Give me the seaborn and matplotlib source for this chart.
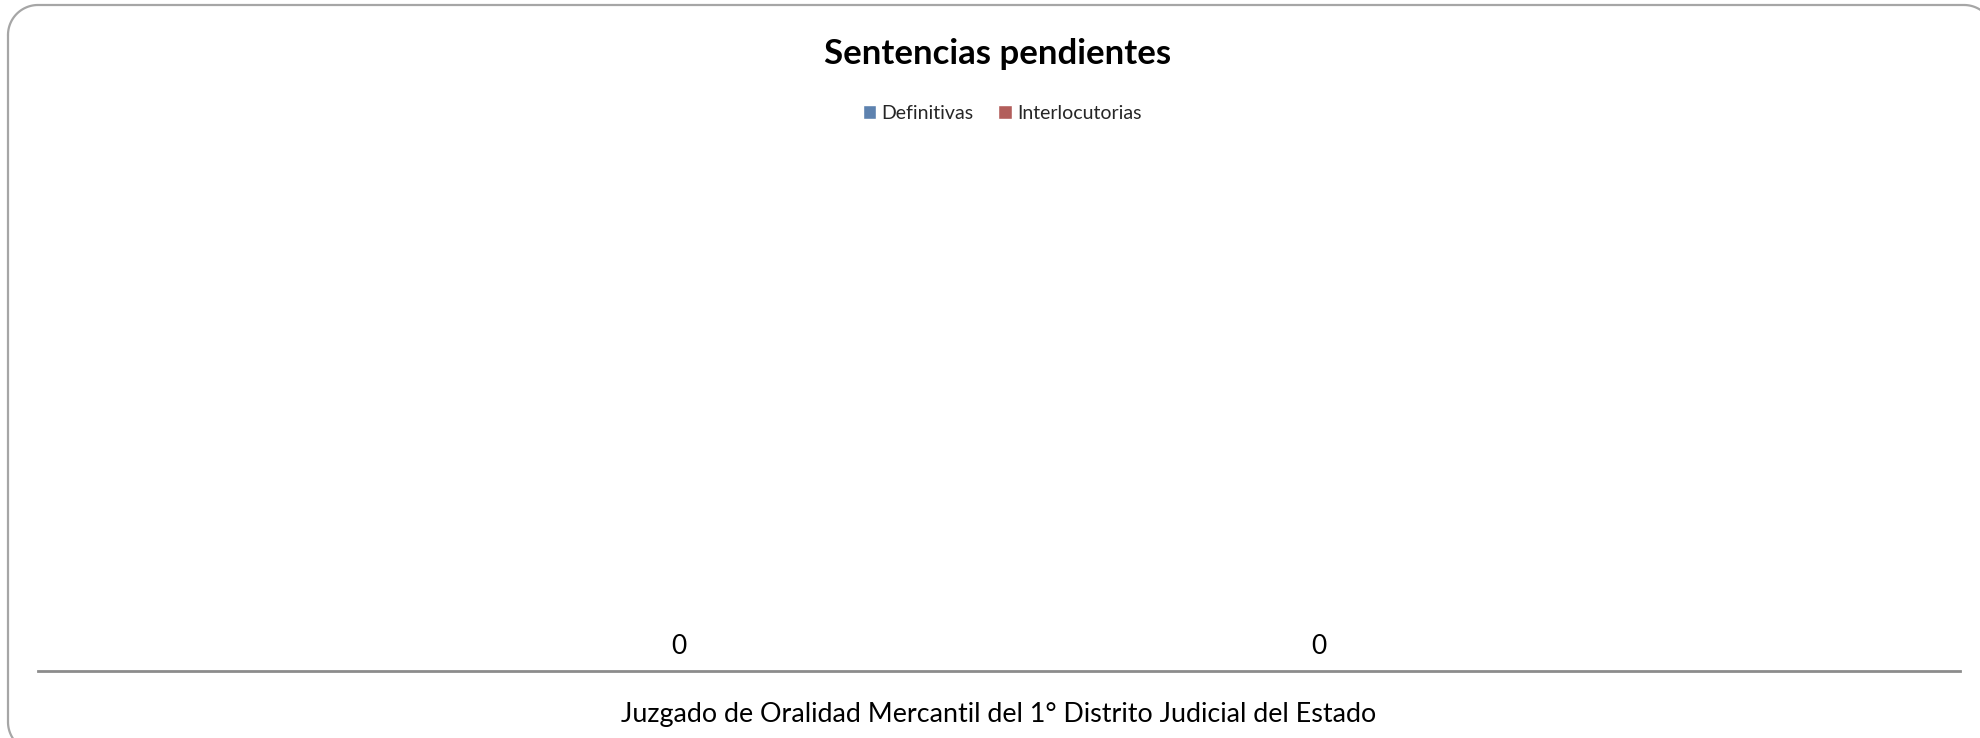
import matplotlib
matplotlib.use("Agg")
import matplotlib.pyplot as plt
import seaborn as sns
import pandas as pd
import numpy as np

categories = ["Juzgado de Oralidad Mercantil del 1° Distrito Judicial del Estado"]
series_names = ["Definitivas", "Interlocutorias"]
definitivas = [0]
interlocutorias = [0]
colors = ["#4F81BD", "#C0504D"]

df = pd.DataFrame({
    "cat": categories * 2,
    "serie": [series_names[0]] * len(categories) + [series_names[1]] * len(categories),
    "val": definitivas + interlocutorias,
})

sns.set_theme(style="white")
plt.rcParams["font.family"] = ["Lato", "DejaVu Sans"]

W, H = 1980, 738
fig = plt.figure(figsize=(W / 100, H / 100), dpi=100)

# rounded chart border overlay, pixel coordinates (y downwards)
bax = fig.add_axes([0, 0, 1, 1], zorder=-1)
bax.set_xlim(0, W)
bax.set_ylim(H, 0)
bax.axis("off")
x0, y0, x1, y1, r = 8, 5, 1994, 752, 30
def arc(cx, cy, a0, a1):
    t = np.radians(np.linspace(a0, a1, 30))
    return cx + r * np.cos(t), cy + r * np.sin(t)
xs, ys = [], []
for seg in [arc(x0 + r, y0 + r, 180, 270), arc(x1 - r, y0 + r, 270, 360),
            arc(x1 - r, y1 - r, 0, 90), arc(x0 + r, y1 - r, 90, 180)]:
    xs.extend(seg[0]); ys.extend(seg[1])
xs.append(xs[0]); ys.append(ys[0])
bax.plot(xs, ys, color="#A6A6A6", lw=1.6, solid_capstyle="round", clip_on=False)

ax = fig.add_axes([38 / W, 1 - 671 / H, (1960 - 38) / W, (671 - 140) / H])
ax.patch.set_alpha(0)

sns.barplot(data=df, x="cat", y="val", hue="serie", palette=colors,
            width=2 / 3, ax=ax, legend=True)
ax.set_xlim(-0.5, 0.5)
ax.set_ylim(0, 1)
for c in ax.containers:
    ax.bar_label(c, labels=[f"{v:g}" for v in c.datavalues], padding=9,
                 fontsize=19, color="black")

for s in ["top", "right", "left"]:
    ax.spines[s].set_visible(False)
ax.spines["bottom"].set_color("#8C8C8C")
ax.spines["bottom"].set_linewidth(2)
ax.set_yticks([])
ax.set_ylabel("")
ax.set_xlabel("")
ax.tick_params(axis="x", length=0, pad=22, labelsize=19.4, labelcolor="black")

handles, labels = ax.get_legend_handles_labels()
ax.legend_.remove()
fig.legend(handles, labels, loc="center", bbox_to_anchor=(1002 / W, 1 - 113.5 / H),
           ncol=2, frameon=False, fontsize=14, handlelength=0.7, handleheight=0.7,
           handletextpad=0.25, columnspacing=1.3)

fig.text(998 / W, 1 - 54 / H, "Sentencias pendientes", ha="center", va="center",
         fontsize=25, fontweight="bold", color="black")

fig.savefig("out.png", dpi=100)
